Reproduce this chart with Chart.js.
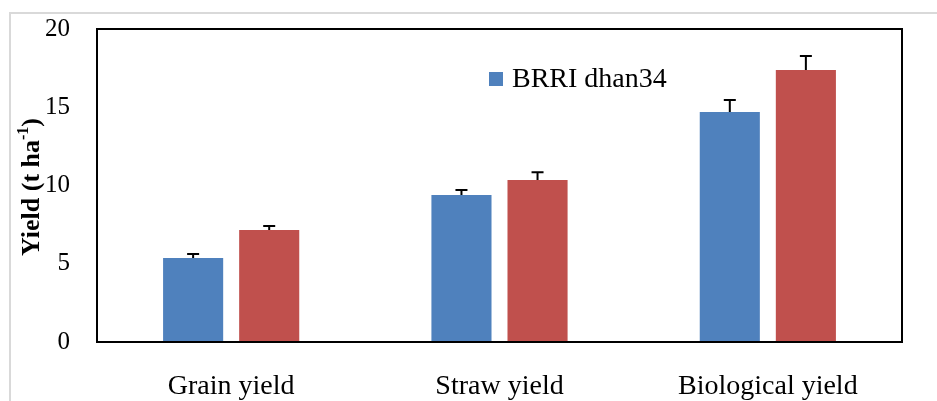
<!DOCTYPE html>
<html>
<head>
<meta charset="utf-8">
<script src="https://cdn.jsdelivr.net/npm/chart.js@4"></script>
<style>
  html, body { margin: 0; padding: 0; background: #fff; }
  #wrap { width: 937px; height: 401px; position: relative; }
</style>
</head>
<body>
<div id="wrap"><canvas id="yieldChart" width="937" height="401"></canvas></div>
<script>
const categories = ["Grain yield", "Straw yield", "Biological yield"];
const seriesNames = ["BRRI dhan34", "Series 2"];
const blueValues = [5.37, 9.39, 14.70];
const blueErrors = [0.26, 0.32, 0.76];
const redValues = [7.16, 10.35, 17.38];
const redErrors = [0.26, 0.50, 0.89];
const yTicks = [0, 5, 10, 15, 20];

const serif = "'Liberation Serif', 'DejaVu Serif', serif";

// frame, outer border, error bars, legend and y title
const extras = {
  id: "extras",
  beforeDraw(chart) {
    const ctx = chart.ctx;
    ctx.save();
    ctx.strokeStyle = "#d9d9d9";
    ctx.lineWidth = 2;
    ctx.beginPath();
    ctx.moveTo(10, 401);
    ctx.lineTo(10, 13);
    ctx.lineTo(937, 13);
    ctx.stroke();
    ctx.restore();
  },
  afterDatasetsDraw(chart) {
    const ctx = chart.ctx;
    const y = chart.scales.y;
    const errs = [blueErrors, redErrors];
    ctx.save();
    ctx.strokeStyle = "#000";
    ctx.lineWidth = 2;
    chart.data.datasets.forEach((ds, i) => {
      chart.getDatasetMeta(i).data.forEach((bar, j) => {
        const top = y.getPixelForValue(ds.data[j] + errs[i][j]);
        ctx.beginPath();
        ctx.moveTo(bar.x, bar.y);
        ctx.lineTo(bar.x, top);
        ctx.moveTo(bar.x - 6, top);
        ctx.lineTo(bar.x + 6, top);
        ctx.stroke();
      });
    });

    const a = chart.chartArea;
    ctx.lineWidth = 2;
    ctx.strokeRect(a.left, a.top, a.right - a.left, a.bottom - a.top);

    // legend (first series only)
    const ds0 = chart.data.datasets[0];
    ctx.fillStyle = ds0.backgroundColor;
    ctx.fillRect(489, 72, 14, 14);
    ctx.fillStyle = "#000";
    ctx.font = "28px " + serif;
    ctx.textBaseline = "middle";
    ctx.textAlign = "left";
    ctx.fillText(ds0.label, 512, 80);

    // y axis title with superscript
    ctx.translate(32, 187);
    ctx.rotate(-Math.PI / 2);
    ctx.textBaseline = "middle";
    const p1 = "Yield (t ha";
    const p2 = "-1";
    const p3 = ")";
    ctx.font = "bold 26px " + serif;
    const w1 = ctx.measureText(p1).width;
    const w3 = ctx.measureText(p3).width;
    ctx.font = "bold 16px " + serif;
    const w2 = ctx.measureText(p2).width;
    let x = -(w1 + w2 + w3) / 2;
    ctx.font = "bold 26px " + serif;
    ctx.fillText(p1, x, 0);
    x += w1;
    ctx.font = "bold 16px " + serif;
    ctx.fillText(p2, x, -8);
    x += w2;
    ctx.font = "bold 26px " + serif;
    ctx.fillText(p3, x, 0);
    ctx.restore();
  }
};

new Chart(document.getElementById("yieldChart").getContext("2d"), {
  type: "bar",
  data: {
    labels: categories,
    datasets: [
      { label: seriesNames[0], data: blueValues, backgroundColor: "#4F81BD" },
      { label: seriesNames[1], data: redValues, backgroundColor: "#C0504D" }
    ]
  },
  options: {
    responsive: false,
    animation: false,
    events: [],
    barPercentage: 0.79,
    categoryPercentage: 0.567,
    layout: { padding: { top: 29, right: 35, left: 0, bottom: 0 } },
    plugins: { legend: { display: false }, tooltip: { enabled: false } },
    scales: {
      x: {
        grid: { display: false, drawTicks: false },
        border: { display: false },
        ticks: { color: "#000", font: { family: serif, size: 28 }, padding: 28, maxRotation: 0 },
        afterFit(scale) { scale.height = 59; scale.paddingLeft = 0; scale.paddingRight = 0; }
      },
      y: {
        min: 0,
        max: 20,
        grid: { display: false, drawTicks: false },
        border: { display: false },
        afterBuildTicks(scale) { scale.ticks = yTicks.map(v => ({ value: v })); },
        ticks: { color: "#000", font: { family: serif, size: 25 }, padding: 27 },
        afterFit(scale) { scale.width = 97; scale.paddingTop = 0; scale.paddingBottom = 0; }
      }
    }
  },
  plugins: [extras]
});
</script>
</body>
</html>
